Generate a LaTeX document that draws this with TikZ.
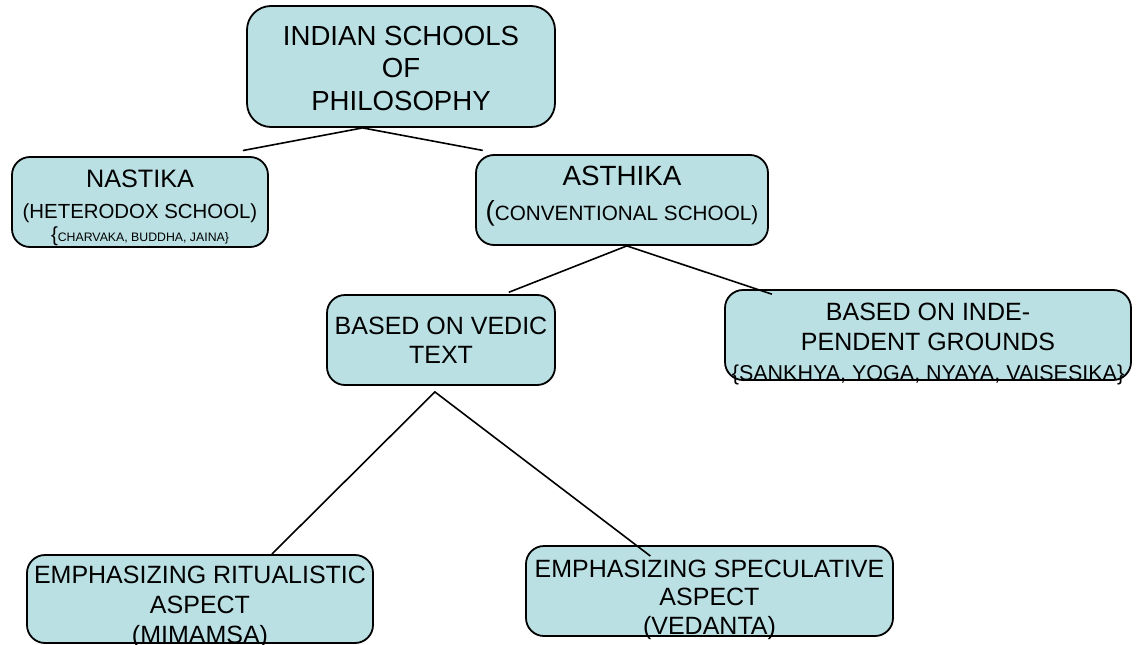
\documentclass[tikz,border=0pt]{standalone}
\usepackage{fontspec}
\setmainfont{Liberation Sans}
\definecolor{boxfill}{RGB}{186,224,227}

\begin{document}
\begin{tikzpicture}[x=1pt, y=-1pt,
  box/.style={draw, fill=boxfill, rounded corners=18pt, line width=1.8pt, inner sep=0pt, align=center},
  link/.style={line width=1.6pt}]
  \useasboundingbox (0,0) rectangle (1138,645);

  \node[box, rounded corners=24pt, minimum width=308pt, text height=104pt, text depth=17pt,
    font=\fontsize{27.6}{32.5}\selectfont] (root) at (401,66.5)
    {INDIAN SCHOOLS\\OF\\PHILOSOPHY};
  \node[box, minimum width=256pt, text height=84pt, text depth=6pt,
    font=\fontsize{25.2}{31}\selectfont] (nastika) at (140,202)
    {NASTIKA\\{\fontsize{20.4}{24}\selectfont (HETERODOX SCHOOL)}\\[-8pt]{\fontsize{20.4}{24}\selectfont\{}{\fontsize{12.3}{14}\selectfont CHARVAKA, BUDDHA, JAINA\}}};
  \node[box, minimum width=292pt, text height=65pt, text depth=25pt,
    font=\fontsize{27.8}{35}\selectfont] (asthika) at (622,200)
    {ASTHIKA\\{\fontsize{27.6}{30}\selectfont (}{\fontsize{20.7}{25}\selectfont CONVENTIONAL SCHOOL)}};
  \node[box, minimum width=228pt, text height=68pt, text depth=22pt,
    font=\fontsize{25}{29}\selectfont] (vedic) at (441,340)
    {BASED ON VEDIC\\TEXT};
  \node[box, minimum width=406pt, text height=90pt, text depth=0pt,
    font=\fontsize{25}{30}\selectfont] (indep) at (928,335)
    {BASED ON INDE-\\PENDENT GROUNDS\\{\fontsize{21.5}{26}\selectfont\{SANKHYA, YOGA, NYAYA, VAISESIKA\}}};
  \node[box, minimum width=346pt, text height=88pt, text depth=0pt,
    font=\fontsize{25}{30}\selectfont] (ritual) at (200,599)
    {EMPHASIZING RITUALISTIC\\ASPECT\\(MIMAMSA)};
  \node[box, minimum width=367pt, text height=88pt, text depth=2pt,
    font=\fontsize{25}{28.5}\selectfont] (specul) at (709.5,591)
    {EMPHASIZING SPECULATIVE\\ASPECT\\(VEDANTA)};

  \path[link]
  (root.238)    edge[shorten >=30pt] (nastika.32)
                edge[shorten >=20pt] (asthika.159)
  (asthika.276) edge[shorten >=5pt] (vedic.36)
                edge[shorten >=-16pt] (indep.165)
  (vedic.south) edge[shorten <=8pt] (ritual.32)
  (vedic.253)   edge[shorten <=10pt, shorten >=-18pt] (specul.148)
                ;
\end{tikzpicture}
\end{document}
